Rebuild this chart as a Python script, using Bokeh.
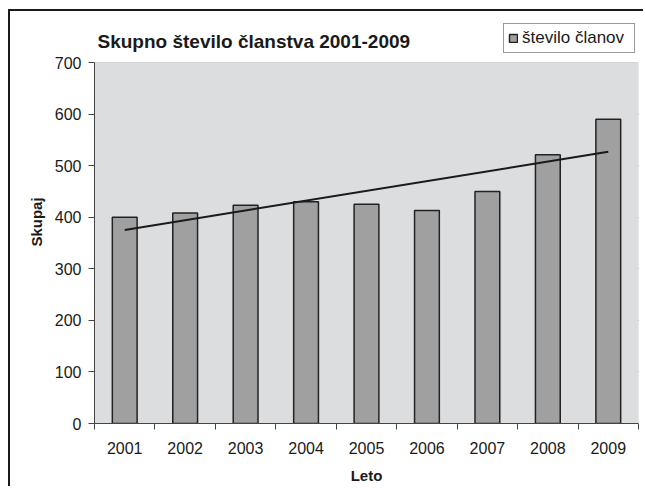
import numpy as np
from bokeh.plotting import figure
from bokeh.models import (Range1d, FixedTicker, Legend, LegendItem, ColumnDataSource,
                          BoxAnnotation, Label)
from bokeh.embed import file_html
from bokeh.resources import INLINE

# ---- data ----
years = ["2001", "2002", "2003", "2004", "2005", "2006", "2007", "2008", "2009"]
members = [400, 408, 423, 430, 425, 413, 450, 521, 590]
y_ticks = [0, 100, 200, 300, 400, 500, 600, 700]
grid_ticks = [100, 200, 300, 400, 500, 600]
y_max = 700

title_text = "Skupno število članstva 2001-2009"
legend_text = "število članov"
x_label = "Leto"
y_label = "Skupaj"

idx = list(range(1, len(years) + 1))

# linear trendline derived from the data (as in the original spreadsheet)
slope, intercept = np.polyfit(idx, members, 1)
trend_x = [idx[0], idx[-1]]
trend_y = [slope * x + intercept for x in trend_x]

FONT = "Liberation Sans"

# frame extends above the grey plot area so the title and legend can live in it
PLOT_PX = 361.0      # pixel height of the 0..700 area
FRAME_PX = 403.0     # frame height incl. header strip
y_top = y_max * FRAME_PX / PLOT_PX

p = figure(width=635, height=477, output_backend="svg", toolbar_location=None,
           x_range=Range1d(0.5, len(years) + 0.5), y_range=Range1d(0, y_top),
           min_border_left=84, min_border_right=7, min_border_top=9, min_border_bottom=65)

p.styles = {"margin-left": "8px", "margin-top": "9px",
            "border-left": "2px solid #1a1a1a", "border-top": "2px solid #1a1a1a"}

p.background_fill_color = "white"
p.border_fill_color = "white"
p.outline_line_color = None
p.title = None

# grey plot area
plot_area = BoxAnnotation(left=0.5, right=len(years) + 0.5, bottom=0, top=y_max,
                          fill_color="#DCDDDF", fill_alpha=1.0,
                          line_color="#999999", line_width=1, level="underlay")
p.add_layout(plot_area)

src = ColumnDataSource(dict(x=idx, top=members))
bars = p.vbar(x="x", top="top", width=0.41, bottom=0, source=src,
              fill_color="#A0A0A0", line_color="#222222", line_width=1.5)

p.line(trend_x, trend_y, line_color="#1a1a1a", line_width=2)

# title
title = Label(x=0.5, y=y_max, x_offset=3, y_offset=21, text=title_text,
              text_font=FONT, text_font_size="19px", text_font_style="bold",
              text_color="#1a1a1a", text_baseline="alphabetic", text_align="left")
p.add_layout(title)

# grid
p.xgrid.grid_line_color = None
p.ygrid.ticker = FixedTicker(ticks=grid_ticks)
p.ygrid.grid_line_color = "#2a2a2a"
p.ygrid.grid_line_width = 1.2

# x axis
xa = p.xaxis[0]
xa.ticker = FixedTicker(ticks=idx, minor_ticks=[i + 0.5 for i in range(0, len(years) + 1)])
xa.major_label_overrides = {i: y for i, y in zip(idx, years)}
xa.major_tick_line_color = None
xa.minor_tick_line_color = "#444444"
xa.minor_tick_in = 0
xa.minor_tick_out = 6
xa.axis_line_color = "#444444"
xa.major_label_text_font = FONT
xa.major_label_text_font_size = "16px"
xa.major_label_text_color = "#1a1a1a"
xa.major_label_standoff = 12
xa.axis_label = x_label
xa.axis_label_text_font = FONT
xa.axis_label_text_font_size = "15px"
xa.axis_label_text_font_style = "bold"
xa.axis_label_text_color = "#1a1a1a"
xa.axis_label_standoff = 10

# y axis
ya = p.yaxis[0]
ya.ticker = FixedTicker(ticks=y_ticks)
ya.bounds = (0, y_max)
ya.minor_tick_line_color = None
ya.major_tick_in = 0
ya.major_tick_out = 6
ya.major_tick_line_color = "#444444"
ya.axis_line_color = "#444444"
ya.major_label_text_font = FONT
ya.major_label_text_font_size = "16px"
ya.major_label_text_color = "#1a1a1a"
ya.major_label_standoff = 7
ya.axis_label = y_label
ya.axis_label_text_font = FONT
ya.axis_label_text_font_size = "15px"
ya.axis_label_text_font_style = "bold"
ya.axis_label_text_color = "#1a1a1a"
ya.axis_label_standoff = 7

legend = Legend(items=[LegendItem(label=legend_text, renderers=[bars])],
                location=(409, 370), orientation="vertical",
                label_text_font=FONT, label_text_font_size="17px", label_text_color="#1a1a1a",
                glyph_width=10, glyph_height=10, label_standoff=4, label_width=108,
                padding=4, margin=0, spacing=0,
                border_line_color="#333333", border_line_width=1,
                background_fill_color="white", background_fill_alpha=1.0)
p.add_layout(legend, "center")

open("out.html", "w").write(file_html(p, INLINE))
